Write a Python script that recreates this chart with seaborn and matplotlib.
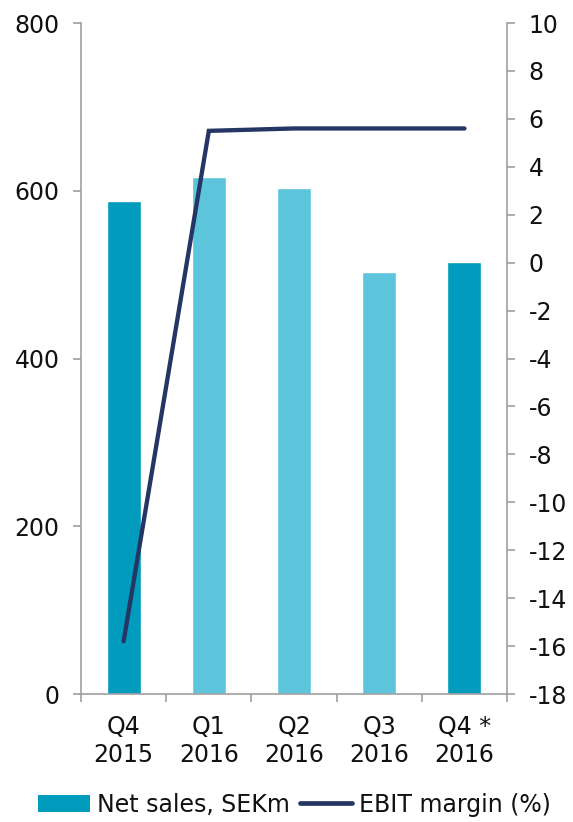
import numpy as np
import pandas as pd
import matplotlib
matplotlib.use("Agg")
import matplotlib.pyplot as plt
from matplotlib.patches import Patch
from matplotlib.lines import Line2D
import seaborn as sns

# Quarterly figures
quarters = ["Q4\n2015", "Q1\n2016", "Q2\n2016", "Q3\n2016", "Q4 *\n2016"]
net_sales = [588, 616, 603, 503, 515]          # SEKm
ebit_margin = [-15.8, 5.5, 5.6, 5.6, 5.6]       # %
bar_colors = ["#009bbd", "#5cc5db", "#5cc5db", "#5cc5db", "#009bbd"]

sns.set_theme(style="white")
plt.rcParams["font.family"] = ["DejaVu Sans"]
plt.rcParams["axes.unicode_minus"] = False

axis_grey = "#a0a0a0"
line_color = "#243664"
text_color = "#111111"
ytick_size = 17
label_size = 17

fig = plt.figure(figsize=(5.73, 8.22), dpi=100)
ax = fig.add_axes([0.1414, 0.1557, 0.7435, 0.8163])

df = pd.DataFrame({"quarter": quarters, "sales": net_sales})
sns.barplot(data=df, x="quarter", y="sales", hue="quarter", palette=bar_colors,
            width=0.4, legend=False, ax=ax, saturation=1)
ax.set_ylim(0, 800)
ax.set_xlim(-0.5, len(quarters) - 0.5)
ax.set_yticks([0, 200, 400, 600, 800])
ax.set_xlabel("")
ax.set_ylabel("")

ax2 = ax.twinx()
sns.lineplot(x=np.arange(len(quarters)), y=ebit_margin, color=line_color,
             linewidth=3.1, ax=ax2, solid_capstyle="round", solid_joinstyle="miter")
ax2.set_ylim(-18, 10)
ax2.set_yticks(np.arange(-18, 11, 2))
ax2.set_xlim(-0.5, len(quarters) - 0.5)

for a in (ax, ax2):
    a.spines["top"].set_visible(False)
    for side in ("left", "right", "bottom"):
        a.spines[side].set_color(axis_grey)
        a.spines[side].set_linewidth(1.2)
    a.grid(False)

ax.spines["right"].set_visible(False)
ax2.spines["left"].set_visible(False)
ax2.spines["bottom"].set_visible(False)

ax.tick_params(axis="y", direction="out", length=5.5, width=1.2, color=axis_grey,
               left=True, labelsize=ytick_size, pad=10, labelcolor=text_color)
ax2.tick_params(axis="y", direction="out", length=5.5, width=1.2, color=axis_grey,
                right=True, labelsize=ytick_size, pad=10, labelcolor=text_color)

# Category labels centred, tick marks between categories
ax.set_xticks(np.arange(len(quarters)))
ax.set_xticklabels(quarters, fontsize=label_size, color=text_color, linespacing=1.2)
ax.tick_params(axis="x", which="major", length=0, pad=15)
ax.set_xticks(np.arange(-0.5, len(quarters), 1.0), minor=True)
ax.tick_params(axis="x", which="minor", direction="out", length=6, width=1.2,
               color=axis_grey, bottom=True)

handles = [Patch(facecolor="#009bbd", edgecolor="none"),
           Line2D([0], [0], color=line_color, linewidth=3.4, solid_capstyle="round")]
fig.legend(handles, ["Net sales, SEKm", "EBIT margin (%)"], loc="center",
           bbox_to_anchor=(0.514, 0.021), ncol=2, frameon=False, fontsize=label_size,
           labelcolor=text_color, handlelength=2.2, handleheight=0.75,
           handletextpad=0.3, columnspacing=0.4)

fig.savefig("out.png", dpi=100)
